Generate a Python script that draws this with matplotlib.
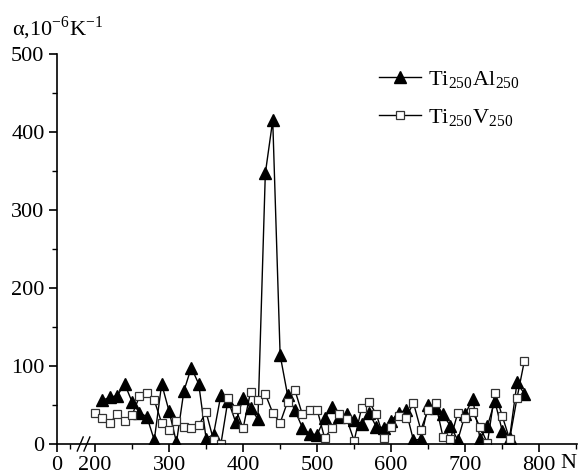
import matplotlib
matplotlib.use("Agg")
import matplotlib.pyplot as plt
import numpy as np

# Configuration
CONFIG = {
    'output_file': "out.png",
    'figsize': (5.8, 4.75),
    'dpi': 100,
}

# Donnees
n_tial = [210, 220, 230, 240, 250, 260, 270, 280, 290, 300,
          310, 320, 330, 340, 350, 360, 370, 380, 390, 400,
          410, 420, 430, 440, 450, 460, 470, 480, 490, 500,
          510, 520, 530, 540, 550, 560, 570, 580, 590, 600,
          610, 620, 630, 640, 650, 660, 670, 680, 690, 700,
          710, 720, 730, 740, 750, 760, 770, 780]
alpha_tial = [56, 60, 62, 77, 54, 40, 35, 5, 77, 42,
              2, 68, 98, 77, 7, 12, 63, 55, 28, 59,
              46, 32, 347, 415, 114, 63, 43, 21, 13, 12,
              33, 48, 34, 39, 31, 26, 40, 22, 21, 30,
              40, 43, 5, 6, 50, 46, 38, 23, 5, 38,
              58, 7, 23, 55, 17, 8, 79, 64]

n_tiv = [200, 210, 220, 230, 240, 250, 260, 270, 280, 290,
         300, 310, 320, 330, 340, 350, 360, 370, 380, 390,
         400, 410, 420, 430, 440, 450, 460, 470, 480, 490,
         500, 510, 520, 530, 540, 550, 560, 570, 580, 590,
         600, 610, 620, 630, 640, 650, 660, 670, 680, 690,
         700, 710, 720, 730, 740, 750, 760, 770, 780]
alpha_tiv = [40, 33, 27, 38, 30, 37, 61, 66, 56, 27,
             18, 29, 22, 20, 24, 41, 5, 0, 59, 45,
             20, 67, 56, 64, 40, 27, 54, 69, 38, 44,
             44, 8, 20, 38, 32, 4, 46, 54, 38, 8,
             22, 36, 33, 53, 18, 44, 52, 9, 6, 40,
             33, 41, 22, 1, 66, 36, 6, 59, 107]

labels = [r'Ti$_{\mathregular{250}}$Al$_{\mathregular{250}}$',
          r'Ti$_{\mathregular{250}}$V$_{\mathregular{250}}$']

x_left = 148.6      # debut de l'axe (coupure : affiche "0")
x_right = 851
y_ticks = [0, 100, 200, 300, 400, 500]
x_ticks = [200, 300, 400, 500, 600, 700, 800]


def creer_graphe():
    """Trace les coefficients de dilatation des deux alliages"""
    plt.rcParams.update({
        'font.family': ['Liberation Serif', 'DejaVu Serif'],
        'font.size': 16,
        'mathtext.fontset': 'stix',
    })

    fig = plt.figure(figsize=CONFIG['figsize'], dpi=CONFIG['dpi'])
    ax = fig.add_axes([57 / 580, 31 / 475, 520 / 580, 390 / 475])

    ax.plot(n_tial, alpha_tial, color='black', linewidth=1.0,
            marker='^', markersize=8, markerfacecolor='black',
            markeredgecolor='black', label=labels[0])
    ax.plot(n_tiv, alpha_tiv, color='black', linewidth=1.0,
            marker='s', markersize=6, markerfacecolor='white',
            markeredgecolor='#333333', markeredgewidth=0.9,
            label=labels[1])

    ax.set_xlim(x_left, x_right)
    ax.set_ylim(0, 500)

    # Axes style Origin
    for s in ['top', 'right']:
        ax.spines[s].set_visible(False)
    ax.spines['left'].set_linewidth(1.2)
    ax.spines['bottom'].set_linewidth(1.2)

    ax.set_xticks([x_left] + x_ticks)
    ax.set_xticklabels(['0'] + [str(t) for t in x_ticks])
    ax.set_xticks([166] + [t + 50 for t in x_ticks], minor=True)
    ax.set_yticks(y_ticks)
    ax.set_yticks([t + 50 for t in y_ticks[:-1]], minor=True)
    ax.tick_params(which='major', direction='out', length=6, width=1.2,
                   labelsize=16, pad=3)
    ax.tick_params(which='minor', direction='out', length=3.5, width=1.0)

    # Coupure de l'axe
    for dx in [0, 9]:
        ax.plot([176 + dx, 184 + dx], [-9, 9], color='black',
                linewidth=1.0, clip_on=False)

    # Etiquettes
    fig.text(12 / 580, 1 - 28 / 475,
             r'α,10$^{\mathregular{-6}}$K$^{\mathregular{-1}}$',
             fontsize=16, va='center', ha='left')
    fig.text(560 / 580, 1 - 463 / 475, 'N', fontsize=16,
             va='center', ha='left')

    ax.legend(loc='upper left', bbox_to_anchor=(368 / 580, 1 - 58 / 475),
              bbox_transform=fig.transFigure, frameon=False,
              handlelength=1.9, handletextpad=0.3, labelspacing=0.75,
              borderpad=0, fontsize=16)

    plt.savefig(CONFIG['output_file'], dpi=CONFIG['dpi'])
    plt.close()


if __name__ == "__main__":
    creer_graphe()
